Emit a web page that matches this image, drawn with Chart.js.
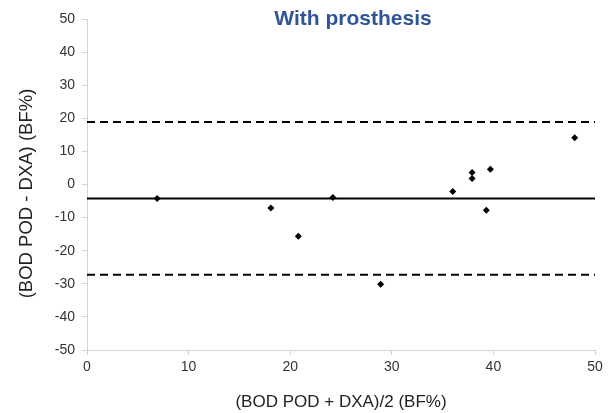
<!DOCTYPE html>
<html>
<head>
<meta charset="utf-8">
<script src="https://cdn.jsdelivr.net/npm/chart.js@4/dist/chart.umd.min.js"></script>
<style>
html,body{margin:0;padding:0;background:#fff;}
#wrap{width:610px;height:413px;position:relative;}
</style>
</head>
<body>
<div id="wrap"><canvas id="c" width="610" height="413"></canvas></div>
<script>
// Data
const meanX = [6.9, 18.1, 20.8, 24.2, 28.9, 36.0, 37.9, 37.9, 39.3, 39.7, 48.0];
const diffY = [-4.2, -7.1, -15.6, -3.9, -30.1, -2.1, 3.6, 1.8, -7.8, 4.6, 14.1];
const meanDiff = -4.2;
const upperLoA = 18.9;
const lowerLoA = -27.3;
const lineXRange = [0, 50];
const xTicks = [0, 10, 20, 30, 40, 50];
const yTicks = [-50, -40, -30, -20, -10, 0, 10, 20, 30, 40, 50];
const chartTitle = 'With prosthesis';
const xTitle = '(BOD POD + DXA)/2 (BF%)';
const yTitle = '(BOD POD - DXA) (BF%)';

const points = meanX.map((x, i) => ({x: x, y: diffY[i]}));
const hline = v => lineXRange.map(x => ({x: x, y: v}));

const FONT = '"Liberation Sans", Arial, sans-serif';

const textPlugin = {
  id: 'texts',
  afterDraw(chart) {
    const ctx = chart.ctx;
    const a = chart.chartArea;
    ctx.save();
    ctx.font = 'bold 21px ' + FONT;
    ctx.fillStyle = '#2F5597';
    ctx.textAlign = 'center';
    ctx.textBaseline = 'alphabetic';
    ctx.fillText(chartTitle, (a.left + a.right) / 2 + 12, 25);
    ctx.restore();

    ctx.save();
    ctx.font = '18.5px ' + FONT;
    ctx.fillStyle = '#222';
    ctx.textAlign = 'center';
    ctx.textBaseline = 'middle';
    ctx.translate(27, (a.top + a.bottom) / 2 + 9);
    ctx.rotate(-Math.PI / 2);
    ctx.fillText(yTitle, 0, 0);
    ctx.restore();
  }
};

const axisColor = '#d4d4d4';
const tickFont = {family: FONT, size: 14};

new Chart(document.getElementById('c'), {
  type: 'scatter',
  data: {
    datasets: [
      {
        label: 'diff',
        data: points,
        pointStyle: 'rectRot',
        pointRadius: 3.5,
        backgroundColor: '#000',
        borderColor: '#000',
        borderWidth: 0,
        order: 0
      },
      {
        type: 'line', label: 'mean', data: hline(meanDiff),
        borderColor: '#000', borderWidth: 2, pointRadius: 0, fill: false, order: 1
      },
      {
        type: 'line', label: 'upper', data: hline(upperLoA),
        borderColor: '#000', borderWidth: 2, borderDash: [8, 5], pointRadius: 0, fill: false, order: 1
      },
      {
        type: 'line', label: 'lower', data: hline(lowerLoA),
        borderColor: '#000', borderWidth: 2, borderDash: [8, 5], pointRadius: 0, fill: false, order: 1
      }
    ]
  },
  options: {
    responsive: false,
    animation: false,
    layout: {padding: {top: 19, right: 15, left: 0, bottom: 0}},
    plugins: {legend: {display: false}, tooltip: {enabled: false}, title: {display: false}},
    scales: {
      x: {
        type: 'linear', min: 0, max: 50,
        afterBuildTicks: s => { s.ticks = xTicks.map(v => ({value: v})); },
        afterFit: s => { s.height = 63; },
        grid: {drawOnChartArea: false, drawTicks: true, tickLength: 5, color: axisColor},
        border: {color: axisColor, width: 1},
        ticks: {color: '#333', font: tickFont, padding: 4, maxRotation: 0},
        title: {display: true, text: xTitle, color: '#222', font: {family: FONT, size: 17}, padding: {top: 8, bottom: 0}}
      },
      y: {
        type: 'linear', min: -50, max: 50,
        afterBuildTicks: s => { s.ticks = yTicks.map(v => ({value: v})); },
        afterFit: s => { s.width = 87; },
        grid: {drawOnChartArea: false, drawTicks: true, tickLength: 5, color: axisColor},
        border: {color: axisColor, width: 1},
        ticks: {color: '#333', font: tickFont, padding: 7},
        title: {display: false}
      }
    }
  },
  plugins: [textPlugin]
});
</script>
</body>
</html>
